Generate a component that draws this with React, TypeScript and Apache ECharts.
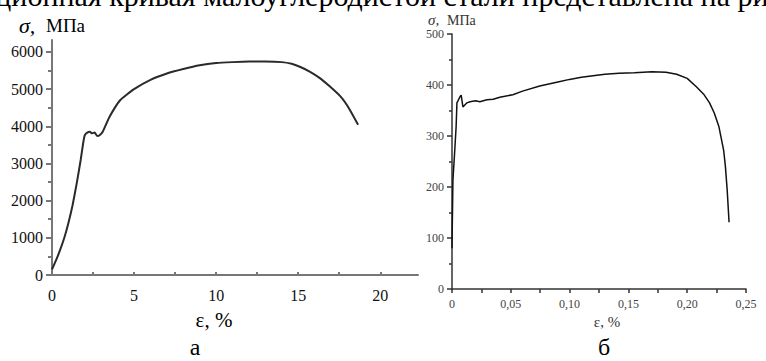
import { useEffect, useRef } from "react";
import * as echarts from "echarts";

// Left chart (а): strain, % vs stress, MPa
const leftStrain = [0, 0.25, 0.5, 0.75, 1.0, 1.25, 1.5, 1.75, 1.9, 2.0, 2.15, 2.3, 2.45, 2.6, 2.75, 2.9, 3.1, 3.5, 4.15, 5.0, 6.0, 7.0, 8.0, 9.0, 10.0, 11.0, 12.0, 13.0, 14.0, 14.6, 15.1, 15.7, 16.3, 16.9, 17.6, 18.1, 18.65];
const leftStress = [150, 400, 680, 1000, 1400, 1870, 2450, 3100, 3550, 3760, 3830, 3850, 3810, 3830, 3740, 3760, 3860, 4250, 4700, 5000, 5250, 5420, 5540, 5640, 5700, 5725, 5740, 5740, 5725, 5680, 5600, 5470, 5300, 5080, 4790, 4480, 4040];

// Right chart (б)
const rightStrain = [0, 0.0004, 0.0008, 0.0025, 0.0035, 0.0042, 0.0068, 0.0078, 0.0093, 0.0127, 0.0153, 0.02, 0.0237, 0.0297, 0.035, 0.0407, 0.0517, 0.06, 0.0746, 0.09, 0.1, 0.11, 0.12, 0.13, 0.142, 0.155, 0.17, 0.182, 0.191, 0.2, 0.208, 0.214, 0.219, 0.223, 0.227, 0.229, 0.231, 0.2325, 0.234, 0.2356];
const rightStress = [80, 150, 214, 278, 318, 365, 377, 380, 357, 365, 367, 369, 367, 371, 372, 376, 381, 388, 398, 406, 411, 415, 418, 421, 423, 424, 426, 425, 421, 413, 396, 382, 365, 345, 318, 295, 272, 240, 194, 131];

const leftYTicks = [0, 1000, 2000, 3000, 4000, 5000, 6000];
const leftYMinor = [500, 1500, 2500, 3500, 4500, 5500];
const leftXLabels = [0, 5, 10, 15, 20];
const leftXTicks = [0, 2.5, 5, 7.5, 10, 12.5, 15, 17.5, 20];
const rightXLabels = [0, 0.05, 0.1, 0.15, 0.2, 0.25];

const topLine = "ационная кривая малоуглеродистой стали представлена на рис";

export default function App() {
  const ref = useRef<HTMLDivElement>(null);
  useEffect(() => {
    const chart = echarts.init(ref.current!, null, { renderer: "svg" });
    const serif = "Liberation Serif, serif";
    const leftAxisColor = "#777";
    const rightAxisColor = "#333";
    const txt = (x: number, y: number, text: string, font: string, fill: string, align = "left") => ({
      type: "text", x, y,
      style: { text, font, fill, align, verticalAlign: "middle" },
    });
    chart.setOption({
      animation: false,
      backgroundColor: "#fff",
      textStyle: { fontFamily: serif },
      grid: [
        { left: 52, top: 40, width: 366, height: 235 },
        { left: 452, top: 34, width: 294, height: 255 },
      ],
      xAxis: [
        {
          type: "value", gridIndex: 0, min: 0, max: 22.3,
          axisLine: { lineStyle: { color: leftAxisColor, width: 2 } },
          axisTick: { customValues: leftXTicks, inside: true, length: 3, lineStyle: { color: leftAxisColor, width: 2 } },
          axisLabel: { customValues: leftXLabels, margin: 12, fontFamily: serif, fontSize: 16, color: "#111", formatter: (v: number) => String(v) },
          splitLine: { show: false },
        },
        {
          type: "value", gridIndex: 1, min: 0, max: 0.25, interval: 0.025,
          axisLine: { lineStyle: { color: rightAxisColor, width: 1.5 } },
          axisTick: { length: 4, lineStyle: { color: rightAxisColor, width: 1.5 } },
          axisLabel: {
            customValues: rightXLabels, margin: 9, fontFamily: serif, fontSize: 12, color: "#444",
            formatter: (v: number) => (v === 0 ? "0" : v.toFixed(2).replace(".", ",")),
          },
          splitLine: { show: false },
        },
      ],
      yAxis: [
        {
          type: "value", gridIndex: 0, min: 0, max: 6320,
          axisLine: { show: true, lineStyle: { color: leftAxisColor, width: 2 } },
          axisTick: { show: true, customValues: leftYTicks, length: 6, lineStyle: { color: leftAxisColor, width: 2 } },
          axisLabel: { customValues: leftYTicks, margin: 9, fontFamily: serif, fontSize: 16, color: "#111", formatter: (v: number) => String(v) },
          splitLine: { show: false },
        },
        {
          type: "value", gridIndex: 0, min: 0, max: 6320, position: "left",
          axisLine: { show: false },
          axisTick: { show: true, customValues: leftYMinor, length: 4, lineStyle: { color: leftAxisColor, width: 2 } },
          axisLabel: { show: false },
          splitLine: { show: false },
        },
        {
          type: "value", gridIndex: 1, min: 0, max: 500, interval: 100,
          axisLine: { show: true, lineStyle: { color: rightAxisColor, width: 1.5 } },
          axisTick: { show: true, length: 5, lineStyle: { color: rightAxisColor, width: 1.5 } },
          minorTick: { show: true, splitNumber: 2, length: 3, lineStyle: { color: rightAxisColor, width: 1.5 } },
          axisLabel: { margin: 8, fontFamily: serif, fontSize: 12, color: "#444", formatter: (v: number) => String(v) },
          splitLine: { show: false },
        },
      ],
      series: [
        {
          type: "line", xAxisIndex: 0, yAxisIndex: 0, showSymbol: false, smooth: 0.15,
          lineStyle: { color: "#2a2a2a", width: 2 },
          data: leftStrain.map((x, i) => [x, leftStress[i]]),
        },
        {
          type: "line", xAxisIndex: 1, yAxisIndex: 2, showSymbol: false,
          lineStyle: { color: "#111", width: 1.5 },
          data: rightStrain.map((x, i) => [x, rightStress[i]]),
        },
      ],
      graphic: [
        txt(-18, -5, topLine, `30px ${serif}`, "#000"),
        txt(19, 25, "σ,", `italic 22px ${serif}`, "#000"),
        txt(46, 25, "МПа", `19px ${serif}`, "#000"),
        txt(428, 20, "σ,", `italic 15px ${serif}`, "#333"),
        txt(447, 20, "МПа", `14px ${serif}`, "#333"),
        txt(214, 320, "ε, %", `21px ${serif}`, "#000", "center"),
        txt(195, 347, "а", `24px ${serif}`, "#000", "center"),
        txt(607, 322, "ε, %", `15px ${serif}`, "#333", "center"),
        txt(604, 347, "б", `24px ${serif}`, "#000", "center"),
      ],
    });
    return () => chart.dispose();
  }, []);
  return <div ref={ref} style={{ position: "fixed", left: 0, top: 0, width: 766, height: 361 }} />;
}
